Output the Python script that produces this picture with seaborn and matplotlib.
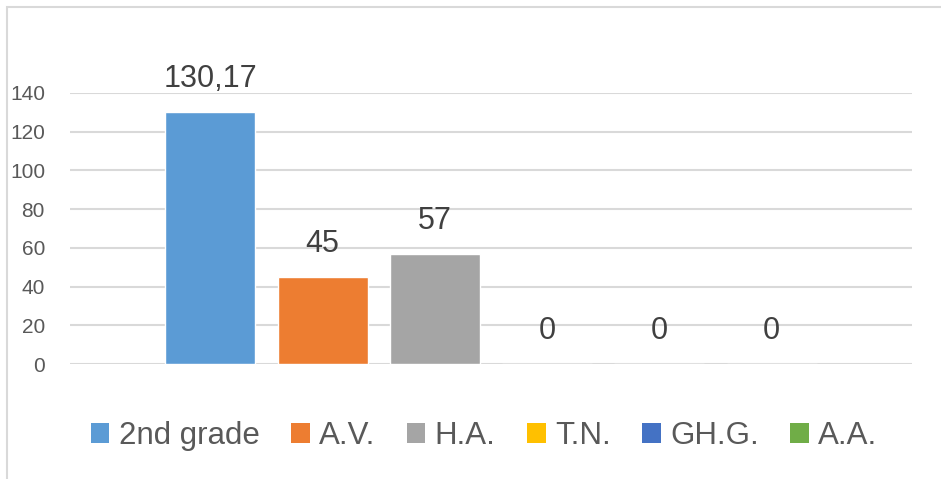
import matplotlib
matplotlib.use("Agg")
import matplotlib.pyplot as plt
from matplotlib.patches import Patch, Rectangle
import pandas as pd
import seaborn as sns

series = ["2nd grade", "A.V.", "H.A.", "T.N.", "GH.G.", "A.A."]
values = [130.17, 45, 57, 0, 0, 0]
colors = ["#5B9BD5", "#ED7D31", "#A5A5A5", "#FFC000", "#4472C4", "#70AD47"]
y_ticks = [0, 20, 40, 60, 80, 100, 120, 140]


def fmt(v):
    if float(v).is_integer():
        return str(int(v))
    return f"{v:.2f}".replace(".", ",")


def main():
    sns.set_style("white")
    plt.rcParams["font.family"] = ["Liberation Sans", "DejaVu Sans"]

    df = pd.DataFrame({"group": [""] * len(series), "series": series, "value": values})

    fig = plt.figure(figsize=(9.41, 4.79), dpi=100)
    ax = fig.add_axes([70 / 941, 1 - 364 / 479, (912 - 70) / 941, (364 - 93) / 479])

    sns.barplot(data=df, x="group", y="value", hue="series", hue_order=series,
                palette=colors, width=0.8, gap=0.2, saturation=1,
                legend=False, ax=ax, zorder=3)

    ax.set_xlim(-0.5, 0.5)
    ax.set_ylim(0, 140)
    ax.set_yticks(y_ticks)
    ax.yaxis.grid(True, color="#D9D9D9", linewidth=1.5)
    ax.set_axisbelow(True)
    for s in ax.spines.values():
        s.set_visible(False)
    ax.set_xticks([])
    ax.set_xlabel("")
    ax.set_ylabel("")
    ax.tick_params(axis="y", length=0, pad=18, labelsize=15, labelcolor="#595959")

    for c, v in zip(ax.containers, values):
        ax.bar_label(c, labels=[fmt(v)], padding=13, fontsize=22, color="#404040")

    handles = [Patch(facecolor=col, edgecolor="none") for col in colors]
    fig.legend(handles, series, loc="center", bbox_to_anchor=(484 / 941, 1 - 436 / 479),
               ncol=6, frameon=False, fontsize=22.5, labelcolor="#595959",
               handlelength=0.6, handleheight=0.6, handletextpad=0.3,
               columnspacing=1.0)

    fig.add_artist(Rectangle((7 / 941, -0.5), 2, 0.5 + 1 - 7 / 479, transform=fig.transFigure,
                             fill=False, edgecolor="#D9D9D9", linewidth=1.5, clip_on=False))

    fig.savefig("out.png", dpi=100)


if __name__ == "__main__":
    main()
